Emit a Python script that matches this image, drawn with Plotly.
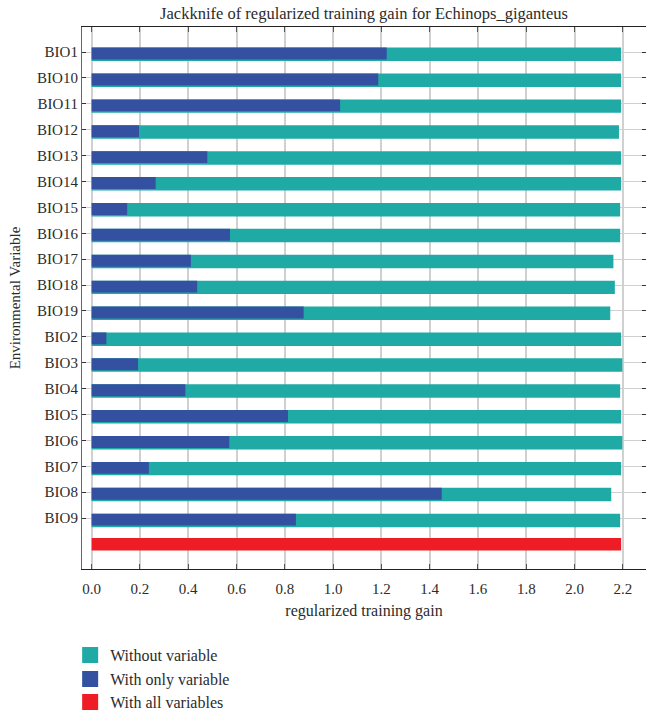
import plotly.graph_objects as go

# Jackknife test of variable importance (MaxEnt) for Echinops giganteus
variables = ["BIO1", "BIO10", "BIO11", "BIO12", "BIO13", "BIO14", "BIO15",
             "BIO16", "BIO17", "BIO18", "BIO19", "BIO2", "BIO3", "BIO4",
             "BIO5", "BIO6", "BIO7", "BIO8", "BIO9"]
gain_without = [2.193, 2.193, 2.193, 2.184, 2.193, 2.193, 2.189, 2.189, 2.161,
                2.167, 2.148, 2.193, 2.198, 2.189, 2.193, 2.198, 2.193, 2.152,
                2.189]
gain_only = [1.222, 1.187, 1.029, 0.196, 0.479, 0.265, 0.147, 0.573, 0.411,
             0.437, 0.878, 0.061, 0.192, 0.388, 0.813, 0.570, 0.237, 1.450,
             0.846]
gain_all = 2.193
x_ticks = [0.0, 0.2, 0.4, 0.6, 0.8, 1.0, 1.2, 1.4, 1.6, 1.8, 2.0, 2.2]

TEAL = "#1FAAA6"
BLUE = "#3350A1"
RED = "#EE1D25"
FONT = "Liberation Serif"
TEXT = "#2b2b2b"

W, H = 646, 711
M_L, M_R, M_T, M_B = 82, 0, 27, 142
PLOT_H = H - M_T - M_B

rows = list(range(len(variables)))
all_row = len(variables)

fig = go.Figure()

fig.add_trace(go.Bar(
    y=rows, x=gain_without, orientation="h", width=0.52, offset=-0.17,
    marker=dict(color=TEAL, line=dict(width=0)), showlegend=False,
    name="Without variable"))
fig.add_trace(go.Bar(
    y=rows, x=gain_only, orientation="h", width=0.46, offset=-0.17,
    marker=dict(color=BLUE, line=dict(width=0)), showlegend=False,
    name="With only variable"))
fig.add_trace(go.Bar(
    y=[all_row], x=[gain_all], orientation="h", width=0.48, offset=-0.23,
    marker=dict(color=RED, line=dict(width=0)), showlegend=False,
    name="With all variables"))

# legend swatches, one legend box per entry so each row sits at its own height
legend_rows = [("Without variable", TEAL, 655),
               ("With only variable", BLUE, 679),
               ("With all variables", RED, 702)]
legend_layout = {}
for i, (name, col, py) in enumerate(legend_rows):
    lid = "legend" if i == 0 else f"legend{i + 1}"
    fig.add_trace(go.Scatter(
        x=[None], y=[None], mode="markers", name=name, legend=lid,
        marker=dict(symbol="square", size=16, color=col, line=dict(width=0))))
    legend_layout[lid] = dict(
        x=-0.021, xanchor="left",
        y=(H - M_B - py) / PLOT_H, yanchor="middle",
        font=dict(family=FONT, size=16, color=TEXT),
        bgcolor="rgba(0,0,0,0)", itemclick=False, itemdoubleclick=False)

fig.update_layout(
    width=W, height=H,
    margin=dict(l=M_L, r=M_R, t=M_T, b=M_B, autoexpand=False),
    plot_bgcolor="white", paper_bgcolor="white",
    barmode="overlay",
    font=dict(family=FONT, size=15, color=TEXT),
    title=dict(text="Jackknife of regularized training gain for Echinops_giganteus",
               x=0.5, xref="paper", xanchor="center",
               y=1 - 13 / H, yanchor="middle",
               font=dict(family=FONT, size=16.5, color=TEXT)),
    xaxis=dict(
        range=[-0.04, 2.296], tickvals=x_ticks, tickformat=".1f",
        showgrid=True, gridcolor="#d0d0d0", gridwidth=1.5, zeroline=False,
        showline=True, linecolor="#222222", linewidth=1.2, mirror="ticks",
        ticks="inside", ticklen=5, tickcolor="#555555",
        ticklabelstandoff=6, automargin=False,
        title=dict(text="regularized training gain", standoff=8,
                   font=dict(family=FONT, size=16, color=TEXT)),
    ),
    yaxis=dict(
        range=[all_row + 0.966, -0.966], tickvals=rows, ticktext=variables,
        showgrid=True, gridcolor="#d0d0d0", gridwidth=1.2, zeroline=False,
        showline=True, linecolor="#666666", linewidth=1.2, mirror="ticks",
        ticks="inside", ticklen=4, tickcolor="#333333", automargin=False,
        title=dict(text="Environmental Variable", standoff=12,
                   font=dict(family=FONT, size=15, color=TEXT)),
    ),
    **legend_layout,
)

fig.write_html("out.html")
